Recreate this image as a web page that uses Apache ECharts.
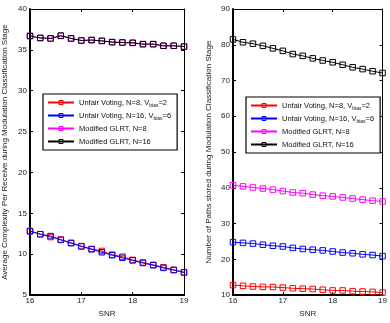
<!DOCTYPE html>
<html>
<head>
<meta charset="utf-8">
<script src="https://cdn.jsdelivr.net/npm/echarts@6/dist/echarts.min.js"></script>
<style>html,body{margin:0;padding:0;background:#fff}#c{width:390px;height:323px}</style>
</head>
<body>
<div id="c"></div>
<script>
const snr = [16,16.2,16.4,16.6,16.8,17,17.2,17.4,17.6,17.8,18,18.2,18.4,18.6,18.8,19];
// Left: average complexity
const cUV8  = [12.85,12.45,12.1,11.8,11.4,11.0,10.65,10.4,9.95,9.7,9.3,9.0,8.7,8.4,8.1,7.8];
const cUV16 = [12.8,12.45,12.22,11.75,11.35,10.95,10.6,10.24,9.88,9.56,9.25,8.93,8.65,8.33,8.06,7.77];
const cG8   = [36.7,36.45,36.4,36.7,36.4,36.15,36.2,36.1,35.95,35.9,35.85,35.7,35.7,35.5,35.5,35.4];
const cG16  = [36.7,36.46,36.4,36.75,36.4,36.15,36.2,36.1,35.95,35.9,35.87,35.7,35.7,35.5,35.5,35.4];
// Right: number of paths
const pUV8  = [12.8,12.6,12.4,12.3,12.25,12.1,11.9,11.8,11.7,11.5,11.3,11.3,11.1,11.0,10.9,10.7];
const pUV16 = [24.8,24.6,24.4,24.1,23.8,23.6,23.2,22.9,22.7,22.5,22.2,21.9,21.7,21.4,21.2,20.9];
const pG8   = [40.7,40.4,40.1,39.8,39.5,39.1,38.7,38.5,38.1,37.8,37.6,37.3,37.0,36.7,36.4,36.2];
const pG16  = [81.5,80.7,80.3,79.7,79.0,78.3,77.4,76.9,76.2,75.6,75.1,74.4,73.7,73.2,72.6,72.1];

const names = ['Unfair Voting, N=8, V{sub|bias}=2','Unfair Voting, N=16, V{sub|bias}=6','Modified GLRT, N=8','Modified GLRT, N=16'];
const colors = ['#ff0000','#0000ff','#ff00ff','#000000'];
const leftYTitle = 'Average Complexity Per Receive during Modulation Classification Stage';
const rightYTitle = 'Number of Paths stored during Modulation Classification Stage';

const font = 'Liberation Sans, Arial, sans-serif';
const pair = a => snr.map((x,i)=>[x,a[i]]);

function mkSeries(data, gi) {
  return data.map((d,k)=>({
    type:'line', name:names[k], xAxisIndex:gi*2, yAxisIndex:gi*2,
    data:pair(d), symbol:'rect', symbolSize:5.5, showSymbol:true,
    lineStyle:{color:colors[k], width:1},
    itemStyle:{color:'rgba(255,255,255,0)', borderColor:colors[k], borderWidth:1},
    emphasis:{disabled:true}, animation:false, z: 2+k
  }));
}

const grids = [
  {left:30, top:9, width:154, height:295},
  {left:233, top:9, width:154, height:295}
];

const xAxes = [], yAxes = [];
[0,1].forEach(g=>{
  xAxes.push({type:'value', gridIndex:g, min:16, max:19, interval:1, position:'bottom',
    name:'SNR', nameLocation:'middle', nameGap:12, nameTextStyle:{fontSize:8, color:'#222', fontFamily:font},
    axisLine:{show:true, lineStyle:{color:'#000', width:2}},
    axisTick:{inside:true, length:3, lineStyle:{color:'#000'}},
    axisLabel:{fontSize:8, color:'#222', margin:2, fontFamily:font},
    splitLine:{show:false}});
  xAxes.push({type:'value', gridIndex:g, min:16, max:19, interval:1, position:'top',
    axisLine:{show:true, onZero:false, lineStyle:{color:'#000', width:1}},
    axisTick:{inside:true, length:3, lineStyle:{color:'#000'}},
    axisLabel:{show:false}, splitLine:{show:false}});
  const ymin = g===0?5:10, ymax = g===0?40:90, yint = g===0?5:10;
  yAxes.push({type:'value', gridIndex:g, min:ymin, max:ymax, interval:yint, position:'left',
    name: g===0?leftYTitle:rightYTitle, nameLocation:'middle', nameGap: g===0?21:20,
    nameTextStyle:{fontSize:8, color:'#222', fontFamily:font},
    axisLine:{show:true, onZero:false, lineStyle:{color:'#000', width:2}},
    axisTick:{inside:true, length:3, lineStyle:{color:'#000'}},
    axisLabel:{fontSize:8, color:'#222', margin:3, fontFamily:font},
    splitLine:{show:false}});
  yAxes.push({type:'value', gridIndex:g, min:ymin, max:ymax, interval:yint, position:'right',
    axisLine:{show:true, onZero:false, lineStyle:{color:'#000', width:1}},
    axisTick:{inside:true, length:3, lineStyle:{color:'#000'}},
    axisLabel:{show:false}, splitLine:{show:false}});
});

function mkLegend(left, top) {
  return {
    orient:'vertical', left:left, top:top,
    data:names.map(n=>({name:n, itemStyle:{color:'rgba(255,255,255,0)', borderWidth:1}})),
    backgroundColor:'#fff', borderColor:'#000', borderWidth:1.2, borderRadius:0,
    padding:[3,6,3,4], itemGap:2, itemWidth:26, itemHeight:5,
    selectedMode:false,
    textStyle:{fontSize:7.5, color:'#111', fontFamily:font, lineHeight:11,
      rich:{sub:{fontSize:5, color:'#111', fontFamily:font, verticalAlign:'bottom', lineHeight:8, padding:[4,0,0,0]}}}
  };
}

const chart = echarts.init(document.getElementById('c'), null, {renderer:'canvas'});
chart.setOption({
  animation:false,
  backgroundColor:'#fff',
  grid:grids,
  xAxis:xAxes,
  yAxis:yAxes,
  legend:[mkLegend(43,94), mkLegend(246,97)],
  series:[...mkSeries([cUV8,cUV16,cG8,cG16],0), ...mkSeries([pUV8,pUV16,pG8,pG16],1)]
});
</script>
</body>
</html>
